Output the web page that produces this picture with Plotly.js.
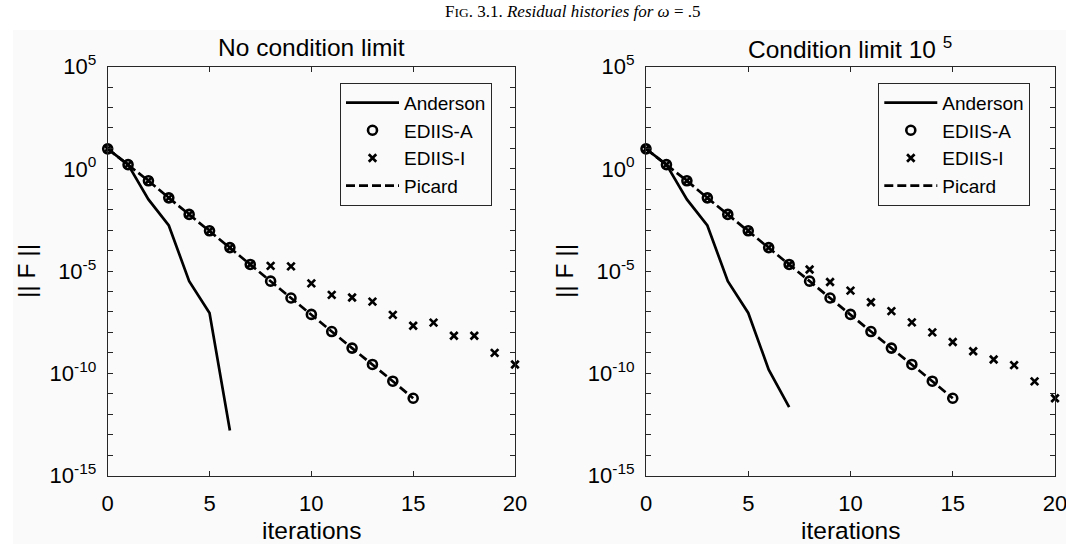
<!DOCTYPE html>
<html>
<head>
<meta charset="utf-8">
<script src="https://cdn.plot.ly/plotly-3.0.1.min.js"></script>
<style>
  html, body { margin: 0; padding: 0; background: #ffffff; }
  #chart { width: 1066px; height: 544px; }
</style>
</head>
<body>
<div id="chart"></div>
<script>
// ---- data ----
const seriesNames = ["Anderson", "EDIIS-A", "EDIIS-I", "Picard"];

const itersPicard = [0,1,2,3,4,5,6,7,8,9,10,11,12,13,14,15];
const picardY = [9.5, 1.6, 0.26, 0.038, 5.9e-3, 9.3e-4, 1.4e-4, 2.1e-5, 3.2e-6, 4.8e-7, 7.6e-8, 1.1e-8, 1.7e-9, 2.7e-10, 4.1e-11, 6.0e-12];

const itersEdiisA = [0,1,2,3,4,5,6,7,8,9,10,11,12,13,14,15];
const ediisAY = [9.5, 1.6, 0.26, 0.038, 5.9e-3, 9.3e-4, 1.4e-4, 2.1e-5, 3.2e-6, 4.8e-7, 7.6e-8, 1.1e-8, 1.7e-9, 2.7e-10, 4.1e-11, 6.0e-12];

const itersEdiisI = [0,1,2,3,4,5,6,7,8,9,10,11,12,13,14,15,16,17,18,19,20];
const ediisILeftY = [9.5, 1.6, 0.26, 0.038, 5.9e-3, 9.3e-4, 1.4e-4, 2.1e-5, 1.8e-5, 1.7e-5, 2.5e-6, 6.8e-7, 5.1e-7, 3.2e-7, 7.2e-8, 2.1e-8, 3.0e-8, 6.9e-9, 6.9e-9, 1.0e-9, 2.7e-10];
const ediisIRightY = [9.5, 1.6, 0.26, 0.038, 5.9e-3, 9.3e-4, 1.4e-4, 2.1e-5, 1.2e-5, 2.9e-6, 1.1e-6, 3.0e-7, 1.1e-7, 3.1e-8, 1.0e-8, 3.4e-9, 1.2e-9, 4.7e-10, 2.5e-10, 4.0e-11, 6.0e-12];

const itersAndersonLeft = [0,1,2,3,4,5,6];
const andersonLeftY = [9.5, 1.6, 3.2e-2, 1.7e-3, 3.2e-6, 8.9e-8, 1.6e-13];
const itersAndersonRight = [0,1,2,3,4,5,6,7];
const andersonRightY = [9.5, 1.6, 3.2e-2, 1.7e-3, 3.2e-6, 8.9e-8, 1.5e-10, 2.2e-12];

const xTickVals = [0, 5, 10, 15, 20];
const xTickText = ["0", "5", "10", "15", "20"];
const yTickVals = [1e-15, 1e-10, 1e-5, 1e0, 1e5];
const yTickText = ["10<sup>-15</sup>", "10<sup>-10</sup>", "10<sup>-5</sup>", "10<sup>0</sup>", "10<sup>5</sup>"];
const yMinorTickVals = [1e-15,1e-14,1e-13,1e-12,1e-11,1e-10,1e-9,1e-8,1e-7,1e-6,1e-5,1e-4,1e-3,1e-2,1e-1,1e0,1e1,1e2,1e3,1e4,1e5];

const panelTitles = ["No condition limit", "Condition limit 10 <sup>5</sup>"];
const figCaption = "F<span style=\"font-size:13.5px\">IG</span>. 3.1. <i>Residual histories for ω</i> = .5";
const xLabel = "iterations";
const yLabel = "|| F ||";

// ---- styling ----
const INK = "#000000";
const LW = 2.7;
const FONT = "Liberation Sans, Arial, Helvetica, sans-serif";

function panelTraces(xa, ya, legendId, andX, andY, ediisIY) {
  return [
    { x: andX, y: andY, xaxis: xa, yaxis: ya, name: seriesNames[0], legend: legendId,
      type: "scatter", mode: "lines", line: { color: INK, width: LW }, cliponaxis: false },
    { x: itersEdiisA, y: ediisAY, xaxis: xa, yaxis: ya, name: seriesNames[1], legend: legendId,
      type: "scatter", mode: "markers", cliponaxis: false,
      marker: { symbol: "circle-open", size: 9, color: INK, line: { color: INK, width: 2.6 } } },
    { x: itersEdiisI, y: ediisIY, xaxis: xa, yaxis: ya, name: seriesNames[2], legend: legendId,
      type: "scatter", mode: "markers", cliponaxis: false,
      marker: { symbol: "x-thin-open", size: 7.5, color: INK, line: { color: INK, width: 2.7 } } },
    { x: itersPicard, y: picardY, xaxis: xa, yaxis: ya, name: seriesNames[3], legend: legendId,
      type: "scatter", mode: "lines", line: { color: INK, width: LW, dash: "9px,4px" }, cliponaxis: false }
  ];
}

const data = [].concat(
  panelTraces("x", "y", "legend", itersAndersonLeft, andersonLeftY, ediisILeftY),
  panelTraces("x2", "y2", "legend2", itersAndersonRight, andersonRightY, ediisIRightY)
);

const W = 1066, H = 544;
const px = v => v / W;
const py = v => 1 - v / H;

function xAxis(domain, anchor) {
  return {
    domain: domain, anchor: anchor, range: [0, 20], fixedrange: true,
    tickmode: "array", tickvals: xTickVals, ticktext: xTickText,
    ticks: "inside", ticklen: 5, tickwidth: 1, tickcolor: "#262626",
    showline: true, linecolor: "#262626", linewidth: 1, mirror: "ticks",
    showgrid: false, zeroline: false, automargin: false,
    ticklabeloverflow: "allow",
    tickfont: { family: FONT, size: 22, color: INK }, ticklabelstandoff: 8
  };
}
function yAxis(domain, anchor) {
  return {
    domain: domain, anchor: anchor, type: "log", range: [-15, 5], fixedrange: true,
    tickmode: "array", tickvals: yTickVals, ticktext: yTickText,
    ticks: "inside", ticklen: 5, tickwidth: 1, tickcolor: "#262626",
    minor: { tickmode: "array", tickvals: yMinorTickVals, ticks: "inside", ticklen: 5, tickwidth: 1, tickcolor: "#262626", showgrid: false },
    showline: true, linecolor: "#262626", linewidth: 1, mirror: "ticks",
    showgrid: false, zeroline: false, automargin: false,
    ticklabeloverflow: "allow",
    tickfont: { family: FONT, size: 22, color: INK }, ticklabelstandoff: 6
  };
}

const yDom = [py(475.5), py(66.6)];
const leftDom = [px(107.7), px(515)];
const rightDom = [px(646), px(1055)];

function legendCfg(xLeft) {
  return {
    x: px(xLeft), xanchor: "left", y: py(82.7), yanchor: "top",
    xref: "paper", yref: "paper",
    bgcolor: "#fafafa", bordercolor: "#262626", borderwidth: 1,
    font: { family: FONT, size: 19, color: INK },
    itemwidth: 53, tracegroupgap: 0, traceorder: "normal",
    entrywidth: 158, entrywidthmode: "pixels"
  };
}

const layout = {
  width: W, height: H,
  margin: { l: 0, r: 0, t: 0, b: 0, pad: 0 },
  paper_bgcolor: "#ffffff", plot_bgcolor: "#fafafa",
  showlegend: true,
  xaxis: xAxis(leftDom, "y"),
  yaxis: yAxis(yDom, "x"),
  xaxis2: xAxis(rightDom, "y2"),
  yaxis2: yAxis(yDom, "x2"),
  legend: legendCfg(340),
  legend2: legendCfg(878.3),
  shapes: [
    { type: "rect", xref: "paper", yref: "paper", x0: px(13), x1: 1, y0: 0, y1: py(30),
      fillcolor: "#fafafa", line: { width: 0 }, layer: "below" }
  ],
  annotations: [
    { text: figCaption, xref: "paper", yref: "paper", x: px(572), y: py(11), xanchor: "center", yanchor: "middle",
      showarrow: false, font: { family: "Liberation Serif, DejaVu Serif, serif", size: 17, color: INK } },
    { text: panelTitles[0], xref: "paper", yref: "paper", x: px(311), y: py(47), xanchor: "center", yanchor: "middle",
      showarrow: false, font: { family: FONT, size: 24.5, color: INK } },
    { text: panelTitles[1], xref: "paper", yref: "paper", x: px(850), y: py(47), xanchor: "center", yanchor: "middle",
      showarrow: false, font: { family: FONT, size: 24.5, color: INK } },
    { text: xLabel, xref: "paper", yref: "paper", x: px(311), y: py(530), xanchor: "center", yanchor: "middle",
      showarrow: false, font: { family: FONT, size: 24.5, color: INK } },
    { text: xLabel, xref: "paper", yref: "paper", x: px(850), y: py(530), xanchor: "center", yanchor: "middle",
      showarrow: false, font: { family: FONT, size: 24.5, color: INK } },
    { text: yLabel, xref: "paper", yref: "paper", x: px(26), y: py(271), xanchor: "center", yanchor: "middle",
      textangle: -90, showarrow: false, font: { family: FONT, size: 24.5, color: INK } },
    { text: yLabel, xref: "paper", yref: "paper", x: px(564), y: py(271), xanchor: "center", yanchor: "middle",
      textangle: -90, showarrow: false, font: { family: FONT, size: 24.5, color: INK } }
  ]
};

Plotly.newPlot("chart", data, layout, { staticPlot: true, displayModeBar: false });
</script>
</body>
</html>
